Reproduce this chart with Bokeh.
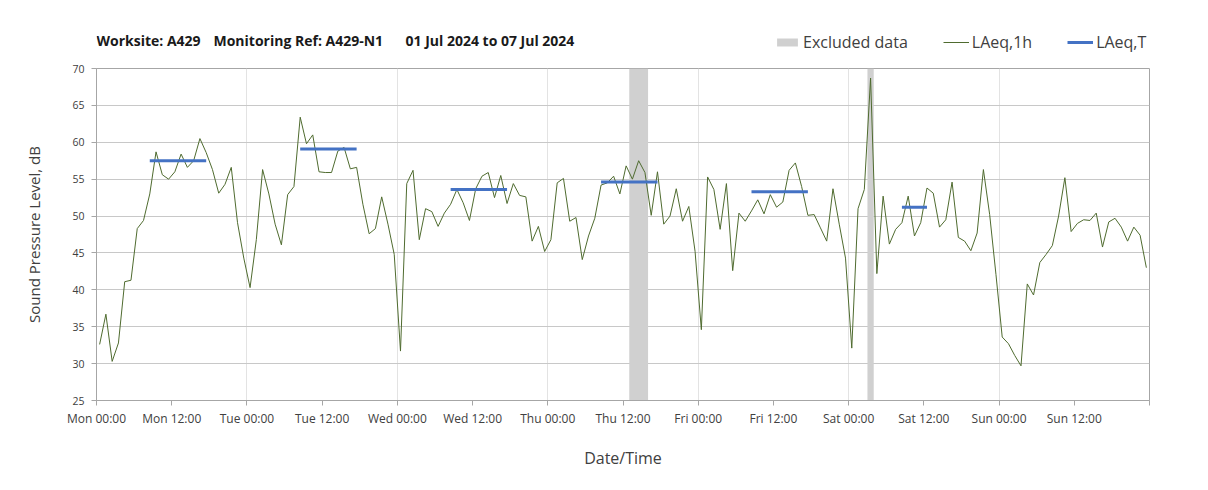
from bokeh.plotting import figure
from bokeh.layouts import column
from bokeh.models import Range1d, FixedTicker, Legend, LegendItem, Label
from bokeh.embed import file_html
from bokeh.resources import INLINE

# Hourly LAeq,1h values, Mon 00:00 .. Sun 23:00 (168 hours)
laeq_1h = [
    32.6, 36.7, 30.3, 32.8, 41.1, 41.3, 48.3, 49.4, 53.0, 58.7, 55.6, 55.0,
    56.0, 58.4, 56.6, 57.5, 60.5, 58.6, 56.3, 53.1, 54.3, 56.6, 49.1, 44.3,
    40.3, 46.8, 56.3, 53.0, 48.9, 46.1, 52.9, 54.0, 63.4, 59.8, 61.0, 56.0,
    55.9, 55.9, 58.8, 59.3, 56.4, 56.6, 51.6, 47.6, 48.3, 52.6, 48.9, 44.8,
    31.7, 54.4, 56.2, 46.8, 51.0, 50.6, 48.6, 50.4, 51.6, 53.6, 51.8, 49.4,
    53.7, 55.4, 55.9, 52.5, 55.5, 51.7, 54.4, 52.8, 52.6, 46.6, 48.6, 45.2,
    46.8, 54.5, 55.1, 49.3, 49.8, 44.1, 47.3, 49.7, 54.2, 54.5, 55.4, 53.0,
    56.8, 55.0, 57.5, 55.9, 50.1, 56.0, 48.9, 50.0, 53.7, 49.3, 51.3, 45.2,
    34.6, 55.3, 53.6, 48.2, 54.4, 42.6, 50.4, 49.3, 50.7, 52.2, 50.3, 52.9,
    51.2, 51.9, 56.2, 57.2, 54.0, 50.1, 50.2, 48.4, 46.6, 53.7, 48.9, 44.3,
    32.1, 51.0, 53.6, 68.7, 42.2, 52.7, 46.2, 48.2, 49.1, 52.7, 47.3, 49.1,
    53.8, 53.1, 48.5, 49.5, 54.6, 47.1, 46.6, 45.3, 47.7, 56.3, 50.2, 42.1,
    33.6, 32.7, 31.1, 29.7, 40.8, 39.3, 43.7, 44.8, 46.0, 50.0, 55.2, 47.9,
    49.0, 49.5, 49.4, 50.4, 45.8, 49.2, 49.7, 48.5, 46.6, 48.5, 47.4, 43.0,
]
hours = [h + 0.5 for h in range(len(laeq_1h))]

# LAeq,T daytime periods (start hour, end hour, value)
laeqT_start = [8, 32, 56, 80, 104, 128]
laeqT_end = [17, 41, 65, 89, 113, 132]
laeqT_value = [57.5, 59.1, 53.6, 54.6, 53.3, 51.2]

# Excluded data periods (hours)
excl_start = [85, 123]
excl_end = [88, 124]

tick_hours = list(range(0, 169, 12))
tick_labels = ["Mon 00:00", "Mon 12:00", "Tue 00:00", "Tue 12:00", "Wed 00:00",
               "Wed 12:00", "Thu 00:00", "Thu 12:00", "Fri 00:00", "Fri 12:00",
               "Sat 00:00", "Sat 12:00", "Sun 00:00", "Sun 12:00", ""]
y_ticks = list(range(25, 71, 5))

title_parts = ["Worksite: A429", "Monitoring Ref: A429-N1", "01 Jul 2024 to 07 Jul 2024"]

FONT = "Open Sans"
TXT = "#404040"
GREEN = "#4f6b2f"
BLUE = "#4472c4"
GREY = "#d0d0d0"
nan = float("nan")

W = 1200
LEFT, RIGHT = 96, 51
HEAD_H = 60

# ---------------- header (title + legend) ----------------
head = figure(width=W, height=HEAD_H, x_range=Range1d(0, 1), y_range=Range1d(0, 1),
              output_backend="svg", toolbar_location=None,
              x_axis_location=None, y_axis_location=None,
              min_border_left=LEFT, min_border_right=RIGHT,
              min_border_top=0, min_border_bottom=0)
head.outline_line_color = None
head.grid.visible = False

for t, x in zip(title_parts, [0, 117, 309]):
    head.add_layout(Label(x=x, y=HEAD_H - 40, x_units="screen", y_units="screen", text=t,
                          text_font=FONT, text_font_style="bold", text_font_size="14px",
                          text_color="#1a1a1a", text_baseline="middle"))

# legend keys (same styles as the chart's marks)
lg_ex = head.quad(left=[nan], right=[nan], bottom=[nan], top=[nan],
                  fill_color=GREY, line_color=None)
lg_1h = head.line(x=[nan], y=[nan], line_color=GREEN, line_width=1)
lg_T = head.line(x=[nan], y=[nan], line_color=BLUE, line_width=3)
legend = Legend(items=[LegendItem(label="Excluded data", renderers=[lg_ex]),
                       LegendItem(label="LAeq,1h", renderers=[lg_1h]),
                       LegendItem(label="LAeq,T", renderers=[lg_T])],
                orientation="horizontal", location=(678, HEAD_H - 53),
                glyph_width=26, glyph_height=10, label_standoff=3, spacing=35,
                padding=0, margin=0, border_line_color=None, background_fill_alpha=0,
                label_text_font=FONT, label_text_font_size="16px", label_text_color=TXT)
head.add_layout(legend, "center")

# ---------------- main chart ----------------
p = figure(width=W, height=482 - HEAD_H, x_range=Range1d(0, 168), y_range=Range1d(25, 70),
           output_backend="svg", toolbar_location=None,
           min_border_left=LEFT, min_border_top=68 - HEAD_H, min_border_right=RIGHT,
           min_border_bottom=82)
p.outline_line_color = "#a6a6a6"

p.xgrid.ticker = FixedTicker(ticks=list(range(0, 169, 24)))
p.xgrid.grid_line_color = "#e3e3e3"
p.ygrid.ticker = FixedTicker(ticks=y_ticks)
p.ygrid.grid_line_color = "#c8c8c8"

p.xaxis.ticker = FixedTicker(ticks=tick_hours)
p.xaxis.major_label_overrides = {h: l for h, l in zip(tick_hours, tick_labels)}
p.yaxis.ticker = FixedTicker(ticks=y_ticks)
for ax in (p.xaxis[0], p.yaxis[0]):
    ax.axis_line_color = "#a6a6a6"
    ax.major_tick_line_color = "#a6a6a6"
    ax.minor_tick_line_color = None
    ax.major_tick_in = 0
    ax.major_tick_out = 5
    ax.major_label_text_font = FONT
    ax.major_label_text_color = TXT
    ax.axis_label_text_font = FONT
    ax.axis_label_text_font_style = "normal"
    ax.axis_label_text_color = TXT
p.xaxis.major_label_text_font_size = "12px"
p.yaxis.major_label_text_font_size = "10.5px"
p.xaxis.axis_label_text_font_size = "16px"
p.yaxis.axis_label_text_font_size = "15px"
p.xaxis.axis_label = "Date/Time"
p.yaxis.axis_label = "Sound Pressure Level, dB"
p.xaxis.major_label_standoff = 4
p.yaxis.major_label_standoff = 7
p.xaxis.axis_label_standoff = 17
p.yaxis.axis_label_standoff = 25

p.quad(left=excl_start, right=excl_end, bottom=25, top=70, fill_color=GREY, line_color=None)
p.line(hours, laeq_1h, line_color=GREEN, line_width=1)
p.segment(x0=[s + 0.5 for s in laeqT_start], x1=[e + 0.5 for e in laeqT_end],
          y0=laeqT_value, y1=laeqT_value, line_color=BLUE, line_width=3)

layout = column(head, p, spacing=0)
open("out.html", "w").write(file_html(layout, INLINE))
